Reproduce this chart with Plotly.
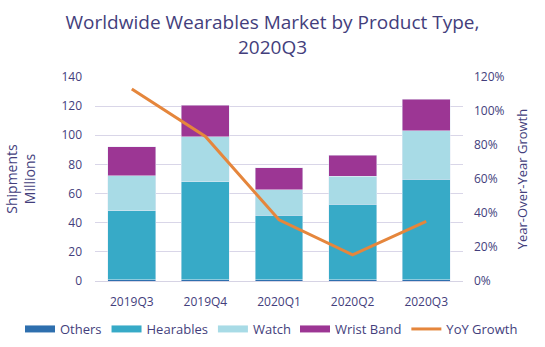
import plotly.graph_objects as go

quarters = ["2019Q3", "2019Q4", "2020Q1", "2020Q2", "2020Q3"]
others = [0.8, 0.8, 0.7, 0.7, 0.8]
hearables = [47.5, 67.2, 44.3, 51.9, 69.2]
watch = [24.1, 31.0, 17.5, 19.4, 33.0]
wrist_band = [19.6, 21.7, 15.2, 14.4, 21.8]
yoy_growth = [112.9, 85.0, 36.0, 15.4, 35.1]

series = [
    ("Others", others, "#2e6fae", "legend"),
    ("Hearables", hearables, "#37aac7", "legend"),
    ("Watch", watch, "#a8dbe6", "legend"),
    ("Wrist Band", wrist_band, "#9c3694", "legend2"),
]

text_color = "#433e7c"
font_family = "Open Sans, Noto Sans, sans-serif"

fig = go.Figure()
for name, values, color, leg in series:
    fig.add_bar(x=quarters, y=values, name=name, marker_color=color,
                legendgroup=name, showlegend=False)
    # wide flat swatch for the legend entry
    fig.add_scatter(x=[None], y=[None], name=name, mode="lines",
                    line=dict(color=color, width=7), legendgroup=name,
                    legend=leg)
fig.add_scatter(x=quarters, y=yoy_growth, name="YoY Growth", mode="lines",
                line=dict(color="#e5863c", width=3), yaxis="y2",
                legend="legend2")

legend_common = dict(orientation="h", xanchor="left", xref="container",
                     yref="container", y=1 - 329 / 347, yanchor="middle",
                     font=dict(size=13, color=text_color), itemwidth=30,
                     traceorder="normal", bgcolor="rgba(0,0,0,0)")

fig.update_layout(
    width=545, height=347,
    barmode="stack", bargap=0.35,
    margin=dict(l=95, r=82, t=77, b=66, autoexpand=False),
    paper_bgcolor="white", plot_bgcolor="white",
    font=dict(family=font_family, color=text_color, size=12),
    title=dict(text="Worldwide Wearables Market by Product Type,<br>2020Q3",
               x=0.5, xanchor="center", yref="container",
               y=1 - 29 / 347, yanchor="middle",
               font=dict(size=19, color=text_color, family=font_family)),
    xaxis=dict(showgrid=False, showline=True, linecolor="#d6d3e4", linewidth=1,
               tickfont=dict(size=12, color=text_color), ticks="",
               ticklabelstandoff=10),
    yaxis=dict(range=[0, 140], dtick=20, showgrid=True, gridcolor="#d9d6e8",
               zeroline=False, tickfont=dict(size=12, color=text_color),
               ticks="", ticklabelstandoff=12,
               title=dict(text="Shipments<br>Millions", standoff=22,
                          font=dict(size=14, color=text_color))),
    yaxis2=dict(overlaying="y", side="right", range=[0, 120],
                dtick=20, ticksuffix="%", showgrid=False, zeroline=False,
                tickfont=dict(size=12, color=text_color),
                ticklabelstandoff=10,
                title=dict(text="Year-Over-Year Growth", standoff=14,
                           font=dict(size=13, color=text_color))),
    legend=dict(legend_common, x=20 / 545),
    legend2=dict(legend_common, x=295 / 545),
)

fig.write_html("out.html")
